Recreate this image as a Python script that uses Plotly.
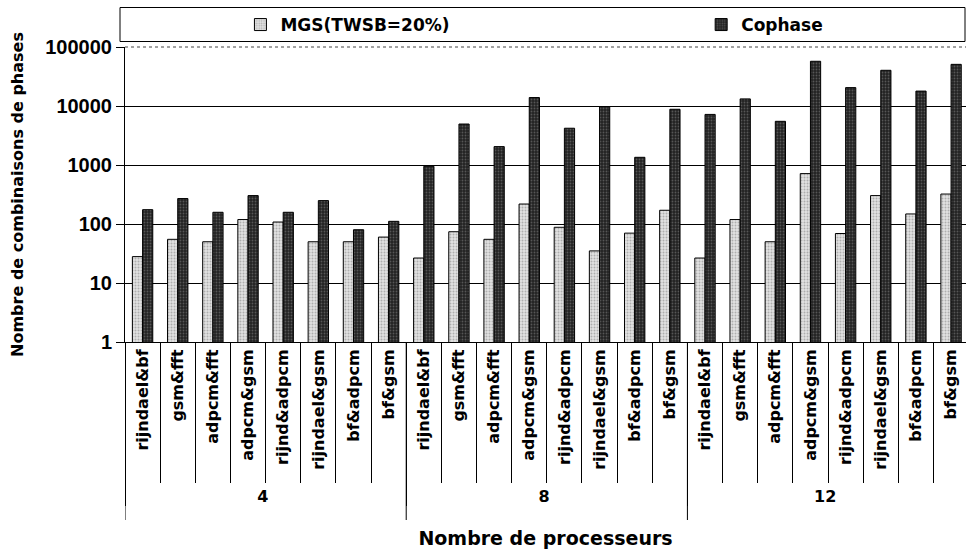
import plotly.graph_objects as go

# ---------------- data ----------------
processors = ["4"] * 8 + ["8"] * 8 + ["12"] * 8
pairs = ["rijndael&bf", "gsm&fft", "adpcm&fft", "adpcm&gsm",
         "rijnd&adpcm", "rijndael&gsm", "bf&adpcm", "bf&gsm"] * 3

mgs = [28, 55, 50, 119, 108, 50, 50, 60,
       26.5, 74, 55, 218, 88, 35, 70, 171,
       26.5, 119, 50, 715, 69, 303, 148, 322]
cophase = [175, 270, 158, 303, 158, 249, 80, 111,
           950, 4950, 2050, 13900, 4200, 9800, 1350, 8800,
           7200, 13200, 5500, 57300, 20500, 40300, 17900, 50800]

y_tickvals = [1, 10, 100, 1000, 10000, 100000]
y_ticktext = ["1", "10", "100", "1000", "10000", "100000"]

series_names = ["MGS(TWSB=20%)", "Cophase"]

# ---------------- layout constants ----------------
W, H = 966, 554
ML, MR, MT, MB = 124.5, 0, 47, 212
PH = H - MT - MB

ARIAL = "Liberation Sans, Arial, sans-serif"
WIDE = "DejaVu Sans, Verdana, sans-serif"


def py(pix):
    """pixel row -> paper y"""
    return (H - MB - pix) / PH


def px(pix):
    return (pix - ML) / (W - ML - MR)


x = [processors, pairs]
x_range = [-0.5, len(pairs) - 0.575]

fig = go.Figure()
fig.add_trace(go.Bar(
    x=x, y=mgs, name=series_names[0], legend="legend",
    marker=dict(color="#d6d6d6", line=dict(color="black", width=1),
                pattern=dict(shape=".", fgcolor="#7a7a7a", bgcolor="#e2e2e2",
                             size=3, solidity=0.35)),
))
fig.add_trace(go.Bar(
    x=x, y=cophase, name=series_names[1], legend="legend2",
    marker=dict(color="#2a2a2a", line=dict(color="black", width=1),
                pattern=dict(shape=".", fgcolor="#8a8a8a", bgcolor="#222222",
                             size=3, solidity=0.3)),
))
# invisible helper trace to carry the category separator ticks
fig.add_trace(go.Scatter(
    x=x, y=[1] * len(pairs), xaxis="x2", mode="markers",
    marker=dict(opacity=0), showlegend=False, hoverinfo="skip",
))

legend_common = dict(orientation="h", xanchor="left", yanchor="middle",
                     font=dict(family=WIDE, size=17, weight="bold"),
                     bgcolor="rgba(0,0,0,0)")

# group boundaries (index positions where the processor count changes)
group_bounds = [-0.5] + [i - 0.5 for i in range(1, len(processors))
                         if processors[i] != processors[i - 1]]
group_lines = [dict(type="line", xref="x", yref="paper", x0=b, x1=b,
                    y0=0, y1=py(520), line=dict(color="black", width=1))
               for b in group_bounds]

fig.update_layout(
    width=W, height=H,
    margin=dict(l=ML, r=MR, t=MT, b=MB),
    paper_bgcolor="white", plot_bgcolor="white",
    font=dict(family=ARIAL, size=18, color="black", weight="bold"),
    barmode="group", bargap=0.42, bargroupgap=0,
    showlegend=True,
    legend=dict(x=px(240), y=py(25), **legend_common),
    legend2=dict(x=px(701), y=py(25), **legend_common),
    xaxis=dict(
        type="multicategory", range=x_range, automargin=False,
        showline=True, linecolor="black", linewidth=1,
        ticks="", tickangle=-90,
        tickfont=dict(family=WIDE, size=16, weight="bold"),
        showdividers=True, dividercolor="black", dividerwidth=1,
        showgrid=False,
        title=dict(text="Nombre de processeurs", standoff=27,
                   font=dict(family=WIDE, size=19, weight="bold")),
    ),
    xaxis2=dict(
        type="multicategory", overlaying="x", anchor="y", side="bottom",
        range=x_range, automargin=False,
        showticklabels=False, ticks="outside", ticklen=140, tickwidth=1,
        tickcolor="black", tickson="boundaries", showdividers=False,
        showgrid=False, showline=False,
    ),
    yaxis=dict(
        type="log", range=[0, 5], tickvals=y_tickvals, ticktext=y_ticktext,
        automargin=False,
        showline=True, linecolor="black", linewidth=1,
        ticks="outside", ticklen=8, tickcolor="black",
        gridcolor="black", gridwidth=1,
        tickfont=dict(family=ARIAL, size=20, weight="bold"),
        title=dict(text="Nombre de combinaisons de phases", standoff=17,
                   font=dict(family=WIDE, size=16, weight="bold")),
    ),
    shapes=[
        # legend frame
        dict(type="rect", xref="paper", yref="paper",
             x0=px(119.5), x1=px(965), y0=py(41.5), y1=py(7.5),
             line=dict(color="black", width=1), fillcolor="rgba(0,0,0,0)"),
        # dotted top boundary of plot area
        dict(type="line", xref="paper", yref="paper", x0=0, x1=1, y0=1, y1=1,
             line=dict(color="white", width=2), layer="above"),
        dict(type="line", xref="paper", yref="paper", x0=0, x1=1, y0=1, y1=1,
             line=dict(color="#444444", width=1, dash="dot"), layer="above"),
    ] + group_lines,
)

fig.write_html("out.html",
               config={"displayModeBar": False},
               post_script="document.body.style.margin='0';"
                           "document.body.style.overflow='hidden';")
